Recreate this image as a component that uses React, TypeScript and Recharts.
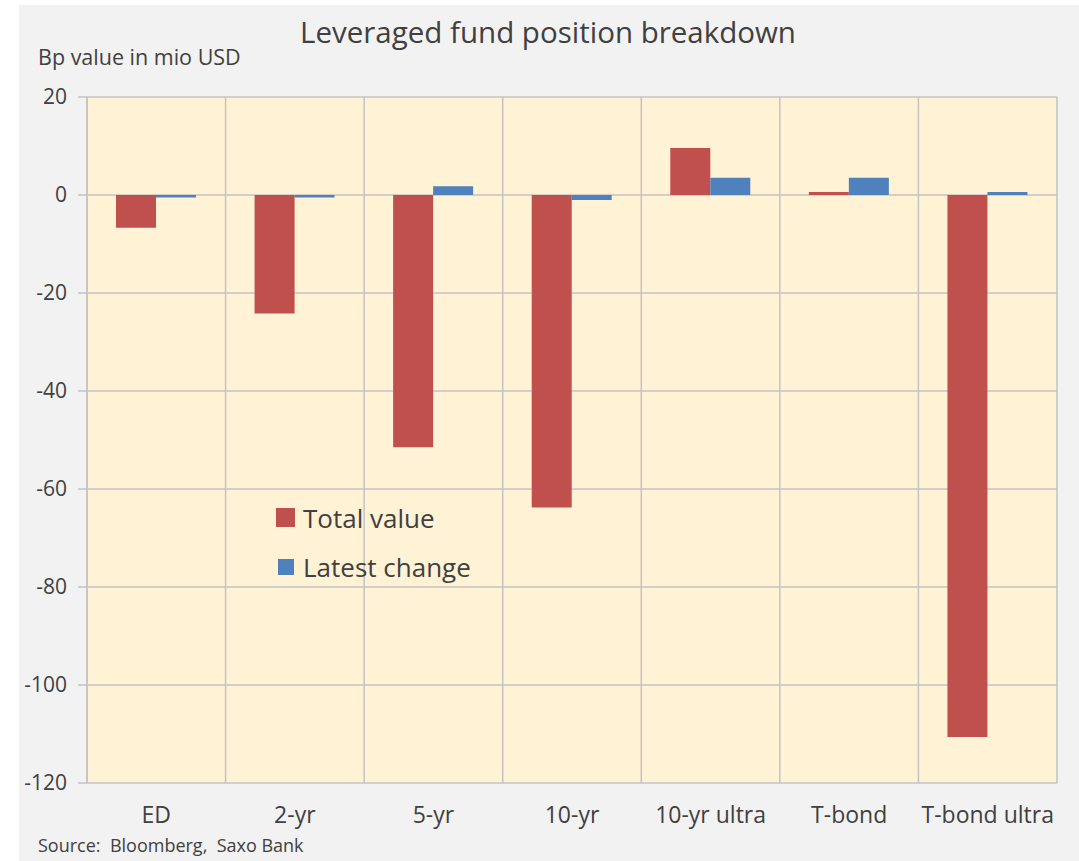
import React from 'react';
import { BarChart, Bar, XAxis, YAxis, CartesianGrid, Legend } from 'recharts';

const categories = ['ED', '2-yr', '5-yr', '10-yr', '10-yr ultra', 'T-bond', 'T-bond ultra'];
const totalValue = [-6.7, -24.2, -51.5, -63.8, 9.6, 0.6, -110.6];
const latestChange = [-0.5, -0.5, 1.8, -1.0, 3.5, 3.5, 0.6];
const yTicks = [20, 0, -20, -40, -60, -80, -100, -120];

const data = categories.map((name, i) => ({
  name,
  total: totalValue[i],
  change: latestChange[i],
}));

const FONT = '"Open Sans", sans-serif';
const TEXT = '#404040';

// custom legend, placed inside the plot like the original
function ChartLegend() {
  const items = [
    { label: 'Total value', color: '#c0504d', size: 19 },
    { label: 'Latest change', color: '#4f81bd', size: 16 },
  ];
  return (
    <div style={{ fontFamily: FONT }}>
      {items.map((it) => (
        <div key={it.label} style={{ display: 'flex', alignItems: 'center', height: 49 }}>
          <div style={{ width: 19, display: 'flex', justifyContent: 'center' }}>
            <div style={{ width: it.size, height: it.size, background: it.color }} />
          </div>
          <span style={{ marginLeft: 8, fontSize: 26, color: TEXT }}>{it.label}</span>
        </div>
      ))}
    </div>
  );
}

export default function App() {
  return (
    <div style={{ position: 'absolute', left: 0, top: 0, width: 1079, height: 861, background: '#fff' }}>
      <div style={{ position: 'absolute', left: 19, top: 5, width: 1060, height: 856, background: '#f2f2f2' }} />
      <div
        style={{
          position: 'absolute', left: 0, top: 11, width: 1096, textAlign: 'center',
          fontFamily: FONT, fontSize: 29.5, color: TEXT,
        }}
      >
        Leveraged fund position breakdown
      </div>
      <div style={{ position: 'absolute', left: 38, top: 42, fontFamily: FONT, fontSize: 21.5, color: TEXT }}>
        Bp value in mio USD
      </div>
      <div style={{ position: 'absolute', left: 38, top: 833, fontFamily: FONT, fontSize: 18, color: TEXT }}>
        Source:&nbsp; Bloomberg,&nbsp; Saxo Bank
      </div>
      <div style={{ position: 'absolute', left: 0, top: 0 }}>
        <BarChart
          width={1079}
          height={861}
          data={data}
          margin={{ top: 97, right: 22, bottom: 48, left: 27 }}
          barGap={0}
          barSize={40}
        >
          <CartesianGrid
            stroke="#c3c3c3"
            strokeWidth={1.5}
            fill="#fff2d5"
            verticalCoordinatesGenerator={({ offset }: any) =>
              categories.map((_, i) => offset.left + (i * offset.width) / categories.length).concat(offset.left + offset.width)
            }
          />
          <XAxis
            dataKey="name"
            axisLine={false}
            tickLine={false}
            tickSize={0}
            tickMargin={24}
            interval={0}
            tick={{ fill: TEXT, fontSize: 23, fontFamily: FONT }}
          />
          <YAxis
            domain={[-120, 20]}
            ticks={yTicks}
            width={60}
            axisLine={{ stroke: '#c3c3c3', strokeWidth: 1.5 }}
            tickLine={{ stroke: '#c3c3c3', strokeWidth: 1.5 }}
            tickSize={9}
            tickMargin={11}
            interval={0}
            tick={{ fill: TEXT, fontSize: 21, fontFamily: FONT }}
          />
          <Legend
            layout="vertical"
            align="center"
            verticalAlign="middle"
            content={<ChartLegend />}
            wrapperStyle={{ position: 'absolute', left: 276, top: 493, width: 240 }}
          />
          <Bar dataKey="total" name="Total value" fill="#c0504d" isAnimationActive={false} />
          <Bar dataKey="change" name="Latest change" fill="#4f81bd" isAnimationActive={false} />
        </BarChart>
      </div>
    </div>
  );
}
